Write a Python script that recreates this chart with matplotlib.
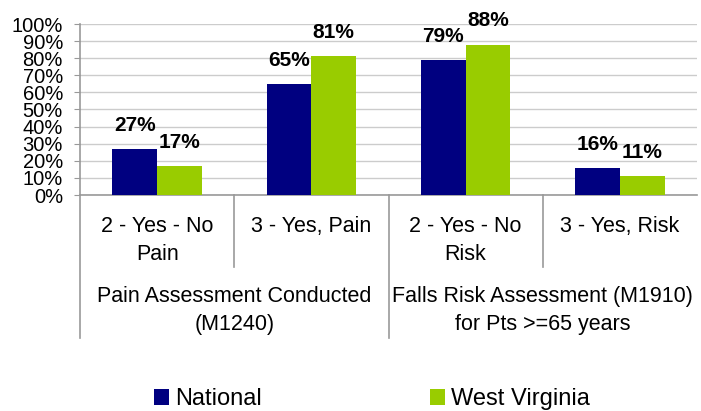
import matplotlib
matplotlib.use("Agg")
import matplotlib.pyplot as plt
import numpy as np

categories = ["2 - Yes - No\nPain", "3 - Yes, Pain", "2 - Yes - No\nRisk", "3 - Yes, Risk"]
groups = ["Pain Assessment Conducted\n(M1240)", "Falls Risk Assessment (M1910)\nfor Pts >=65 years"]
national = [27, 65, 79, 16]
west_virginia = [17, 81, 88, 11]
yticks = list(range(0, 101, 10))

plt.rcParams['font.family'] = ['Liberation Sans', 'DejaVu Sans']

fig = plt.figure(figsize=(7.01, 4.11), dpi=100)
W, H = 701, 411
ax = fig.add_axes([80 / W, (H - 195) / H, (697 - 80) / W, (195 - 24) / H])

x = np.arange(len(categories)) + 0.5
w = 0.29
b1 = ax.bar(x - w / 2, national, w, color="#000080", label="National", zorder=3)
b2 = ax.bar(x + w / 2, west_virginia, w, color="#99CC00", label="West Virginia", zorder=3)

for bars in (b1, b2):
    for r in bars:
        ax.annotate(f"{r.get_height():.0f}%", (r.get_x() + r.get_width() / 2, r.get_height()),
                    xytext=(0, 17), textcoords="offset points", ha="center", va="center",
                    fontsize=15, fontweight="bold")

ax.set_xlim(0, 4)
ax.set_ylim(0, 100)
ax.set_yticks(yticks)
ax.set_yticklabels([f"{t}%" for t in yticks], fontsize=14.5)
ax.tick_params(axis="y", length=4.3, color="#999999", pad=8)
ax.set_xticks([])
ax.yaxis.grid(True, color="#cccccc", linewidth=1)
ax.set_axisbelow(True)
for s in ("top", "right"):
    ax.spines[s].set_visible(False)
ax.spines["left"].set_color("#999999")
ax.spines["bottom"].set_color("#999999")
ax.spines["left"].set_linewidth(1.2)
ax.spines["bottom"].set_linewidth(1.2)

# category labels and separators below axis
axh = 171.0
trans = ax.get_xaxis_transform()
for i, lab in enumerate(categories):
    ax.text(x[i], -(216 - 195) / axh, lab, transform=trans,
            ha="center", va="top", fontsize=15.5, linespacing=1.45)
for i, lab in enumerate(groups):
    ax.text(1 + 2 * i, -(286 - 195) / axh, lab, transform=trans,
            ha="center", va="top", fontsize=15.5, linespacing=1.45)

for xs in (1, 3):
    ax.plot([xs, xs], [0, -(267 - 195) / axh], transform=trans, color="#999999",
            linewidth=1.2, clip_on=False)
for xs in (0, 2):
    ax.plot([xs, xs], [0, -(338 - 195) / axh], transform=trans, color="#999999",
            linewidth=1.2, clip_on=False)

fig.legend(handles=[b1, b2], loc="center", bbox_to_anchor=(372 / W, 1 - 399 / H),
           ncol=2, frameon=False, fontsize=17, handlelength=0.64, handleheight=0.64,
           handletextpad=0.25, columnspacing=7.1, borderaxespad=0)

fig.savefig("out.png", dpi=100)
